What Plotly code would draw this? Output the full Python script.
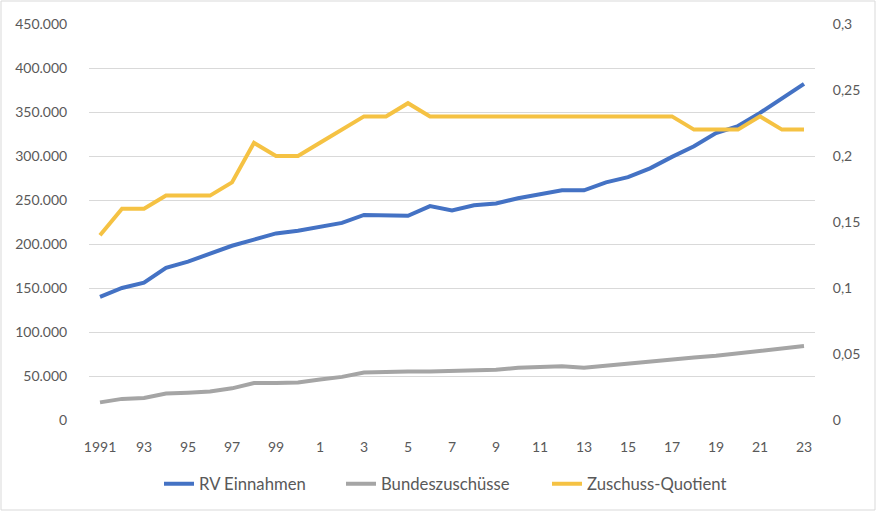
import plotly.graph_objects as go

years = list(range(1991, 2024))
rv_einnahmen = [140000, 150000, 156000, 173000, 180000, 189000, 198000, 205000, 212000, 215000,
                220000, 224000, 233000, 233000, 232000, 243000, 238000, 244000, 246000, 252000,
                257000, 261000, 261000, 270000, 276000, 286000, 299000, 311000, 326000, 334000,
                349000, 365000, 382000]
bundeszuschuesse = [20000, 24000, 25000, 30000, 31000, 32500, 36000, 42000, 42000, 42500,
                    46000, 49000, 54000, 55000, 55000, 55000, 56000, 56000, 57000, 59500,
                    60000, 61000, 59500, 62000, 64000, 66000, 68500, 71000, 73000, 75500,
                    78000, 80500, 84000]
quotient = [0.14, 0.16, 0.16, 0.17, 0.17, 0.17, 0.18, 0.21, 0.20, 0.20,
            0.21, 0.22, 0.23, 0.23, 0.24, 0.23, 0.23, 0.23, 0.23, 0.23,
            0.23, 0.23, 0.23, 0.23, 0.23, 0.23, 0.23, 0.22, 0.22, 0.22,
            0.23, 0.22, 0.22]

x_tickvals = list(range(1991, 2024, 2))
x_ticktext = ["1991", "93", "95", "97", "99", "1", "3", "5", "7", "9",
              "11", "13", "15", "17", "19", "21", "23"]
y_tickvals = [0, 50000, 100000, 150000, 200000, 250000, 300000, 350000, 400000, 450000]
y_ticktext = ["0", "50.000", "100.000", "150.000", "200.000", "250.000",
              "300.000", "350.000", "400.000", "450.000"]
y2_tickvals = [0, 0.05, 0.1, 0.15, 0.2, 0.25, 0.3]
y2_ticktext = ["0", "0,05", "0,1", "0,15", "0,2", "0,25", "0,3"]

font_color = "#595959"
fnt = "Lato, 'Open Sans', sans-serif"
W, H = 878, 512

fig = go.Figure()
fig.add_trace(go.Scatter(x=years, y=rv_einnahmen, mode="lines", name="RV Einnahmen",
                         line=dict(color="#4472C4", width=4), legend="legend"))
fig.add_trace(go.Scatter(x=years, y=bundeszuschuesse, mode="lines", name="Bundeszuschüsse",
                         line=dict(color="#A5A5A5", width=4), legend="legend2"))
fig.add_trace(go.Scatter(x=years, y=quotient, mode="lines", name="Zuschuss-Quotient",
                         line=dict(color="#F5C243", width=4), yaxis="y2", legend="legend3"))


def leg(px_left):
    return dict(orientation="h", x=px_left / W, xanchor="left", xref="container",
                y=1 - 484 / H, yref="container", yanchor="middle",
                font=dict(family=fnt, size=16.7, color=font_color),
                bgcolor="rgba(0,0,0,0)", itemwidth=30)


fig.update_layout(
    width=W, height=H,
    margin=dict(l=89, r=63, t=24, b=92),
    paper_bgcolor="white", plot_bgcolor="white",
    font=dict(family=fnt, size=14, color=font_color),
    showlegend=True,
    legend=leg(159), legend2=leg(341), legend3=leg(547),
    xaxis=dict(range=[1990.5, 2023.5], tickvals=x_tickvals, ticktext=x_ticktext,
               showgrid=False, zeroline=False, showline=False,
               ticks="outside", ticklen=14, tickcolor="rgba(0,0,0,0)",
               tickfont=dict(size=14, color=font_color)),
    yaxis=dict(range=[0, 450000], tickvals=y_tickvals, ticktext=y_ticktext,
               showgrid=True, gridcolor="#D9D9D9", gridwidth=1.3,
               zeroline=False, showline=False,
               ticks="outside", ticklen=18, tickcolor="rgba(0,0,0,0)",
               tickfont=dict(size=14, color=font_color)),
    yaxis2=dict(range=[0, 0.3], tickvals=y2_tickvals, ticktext=y2_ticktext,
                overlaying="y", side="right", showgrid=False, zeroline=False,
                showline=False, ticks="outside", ticklen=14, tickcolor="rgba(0,0,0,0)",
                tickfont=dict(size=14, color=font_color)),
)
# outer chart border
fig.add_shape(type="rect", xref="x domain", yref="y domain",
              x0=-88 / 726, x1=1 + 60 / 726, y0=-90 / 396, y1=1 + 23 / 396,
              line=dict(color="#D9D9D9", width=1), layer="below")

fig.write_html("out.html", config={"displayModeBar": False},
               post_script="document.body.style.margin='0';document.body.style.overflow='hidden';")
